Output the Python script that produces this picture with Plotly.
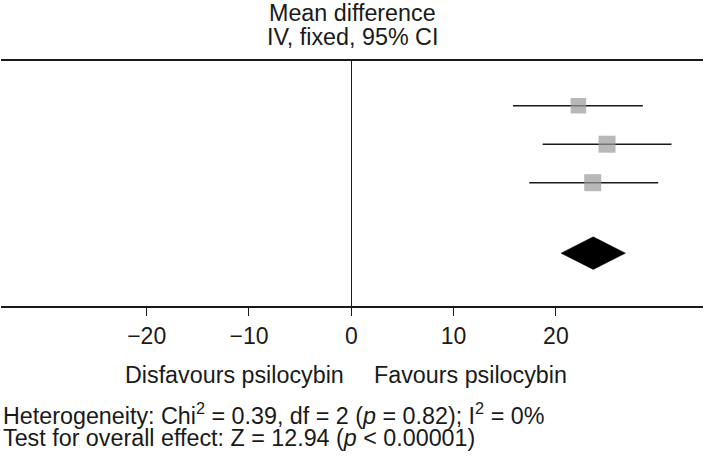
import plotly.graph_objects as go

# ---- data ----
studies = ["Study 1", "Study 2", "Study 3"]
study_pos = [1, 2, 3]
mean_diff = [22.2, 25.0, 23.6]
ci_lower = [15.8, 18.7, 17.4]
ci_upper = [28.5, 31.3, 30.0]

pooled_pos = 4.83
pooled_mean = 23.65
pooled_lower = 20.5
pooled_upper = 26.8

tick_vals = [-20, -10, 0, 10, 20]
tick_text = ["\u221220", "\u221210", "0", "10", "20"]

FONT = "Liberation Sans, Arial, sans-serif"
INK = "#1a1a1a"

fig = go.Figure()

# study estimates with CIs
fig.add_trace(go.Scatter(
    x=mean_diff, y=study_pos, mode="markers", name="Studies",
    text=studies,
    marker=dict(symbol="square", size=[15.5, 17, 17], color="#9a9a9a",
                line=dict(width=0)),
    error_x=dict(type="data", symmetric=False,
                 array=[u - m for u, m in zip(ci_upper, mean_diff)],
                 arrayminus=[m - l for m, l in zip(mean_diff, ci_lower)],
                 color=INK, thickness=1.6, width=0),
    showlegend=False, hoverinfo="skip",
))

# pooled diamond
half_h = 0.423
fig.add_trace(go.Scatter(
    x=[pooled_lower, pooled_mean, pooled_upper, pooled_mean, pooled_lower],
    y=[pooled_pos, pooled_pos - half_h, pooled_pos, pooled_pos + half_h, pooled_pos],
    mode="lines", fill="toself", fillcolor="black",
    line=dict(color="black", width=0.5),
    showlegend=False, hoverinfo="skip",
))

fig.update_layout(
    width=706, height=458,
    margin=dict(l=1, r=3, t=61, b=152, pad=0),
    paper_bgcolor="white", plot_bgcolor="white",
    font=dict(family=FONT, size=23, color=INK),
    xaxis=dict(
        range=[-34.24, 34.38], showgrid=False,
        zeroline=True, zerolinecolor=INK, zerolinewidth=1.3,
        showline=True, linecolor=INK, linewidth=1.6, mirror=True,
        ticks="outside", ticklen=8.5, tickwidth=1.3, tickcolor=INK,
        tickvals=tick_vals, ticktext=tick_text,
        tickfont=dict(family=FONT, size=23, color=INK),
        fixedrange=True,
    ),
    yaxis=dict(range=[6.203, -0.161], visible=False, showgrid=False,
               zeroline=False, fixedrange=True),
)

ann_font = dict(family=FONT, size=23.3, color=INK)


def py(pixel_y):
    # convert a pixel row to paper coordinates of the plot area (61..306)
    return (306 - pixel_y) / 245.0


annotations = [
    dict(text="Mean difference", x=0.5, xref="paper", y=py(13), yref="paper",
         xanchor="center", yanchor="middle", showarrow=False, font=ann_font),
    dict(text="IV, fixed, 95% CI", x=0.5, xref="paper", y=py(37.5), yref="paper",
         xanchor="center", yanchor="middle", showarrow=False, font=ann_font),
    dict(text="Disfavours psilocybin", x=0, xref="x", xshift=-5, y=py(374.5), yref="paper",
         xanchor="right", yanchor="middle", showarrow=False, font=ann_font),
    dict(text="Favours psilocybin", x=0, xref="x", xshift=21, y=py(374.5), yref="paper",
         xanchor="left", yanchor="middle", showarrow=False, font=ann_font),
    dict(text="Heterogeneity: Chi<sup>2</sup> = 0.39, df = 2 (<i>p</i> = 0.82); I<sup>2</sup> = 0%",
         x=0, xref="paper", xshift=0, y=py(414), yref="paper",
         xanchor="left", yanchor="middle", showarrow=False, font=ann_font),
    dict(text="Test for overall effect: Z = 12.94 (<i>p</i> &lt; 0.00001)",
         x=0, xref="paper", xshift=0, y=py(437.5), yref="paper",
         xanchor="left", yanchor="middle", showarrow=False, font=ann_font),
]
fig.update_layout(annotations=annotations)

fig.write_html(
    "out.html",
    config={"displayModeBar": False, "staticPlot": False},
    post_script="document.body.style.margin='0';document.body.style.padding='0';",
)
